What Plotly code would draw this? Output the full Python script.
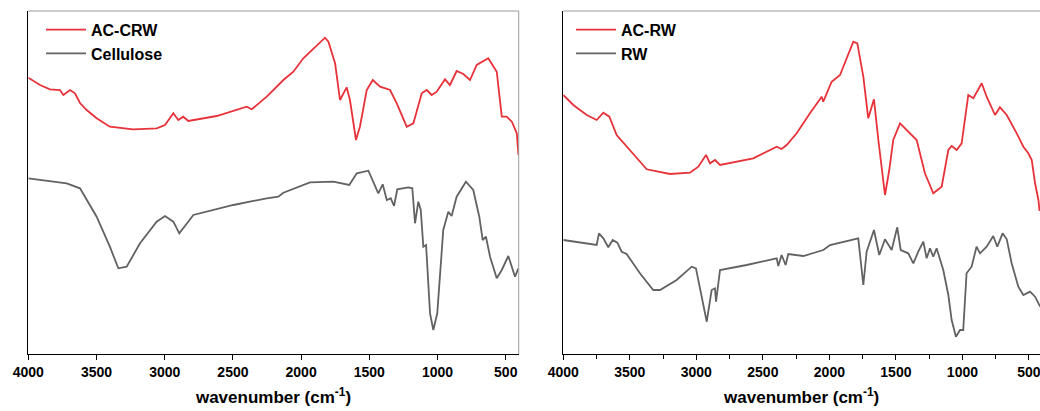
import plotly.graph_objects as go

# ---- Data (y in arbitrary transmittance units) ----
acrcw_wn = [4000, 3914, 3841, 3768, 3743, 3694, 3658, 3621, 3572, 3499, 3402, 3232, 3059, 2998, 2937, 2900,
            2864, 2827, 2619, 2399, 2362, 2326, 2252, 2130, 2057, 1984, 1886, 1825, 1800, 1751, 1715, 1666,
            1642, 1598, 1569, 1519, 1475, 1421, 1348, 1299, 1226, 1177, 1116, 1079, 1043, 1006, 982, 945,
            909, 860, 811, 762, 713, 628, 566, 529, 493, 455, 419, 407]
acrcw_t = [276.3, 269, 264.7, 264, 259, 264, 260.7, 251, 244, 235.7, 227.3, 224.7, 225.7, 229, 240.7, 234,
           237.3, 233, 238, 247.3, 244.7, 249, 257.3, 274, 282.3, 295.7, 309, 316.3, 312.3, 290.7, 254, 266.7,
           254, 214, 227.3, 264, 274, 267.3, 264, 250.7, 227.3, 230.7, 260.7, 264, 259, 262.3, 267.3, 274.7,
           269, 283, 280, 274, 289, 295.7, 282.3, 237.3, 237.3, 232.3, 220.7, 199]

cell_wn = [4000, 3718, 3621, 3499, 3402, 3340, 3279, 3181, 3059, 2998, 2937, 2893, 2790, 2497, 2252, 2167,
           2130, 1996, 1935, 1764, 1647, 1592, 1507, 1434, 1402, 1372, 1343, 1319, 1295, 1214, 1185, 1165,
           1141, 1123, 1104, 1084, 1055, 1031, 1002, 958, 921, 897, 860, 792, 738, 694, 669, 645, 615, 566,
           529, 481, 432, 407]
cell_t = [175.7, 170.7, 165.7, 137.3, 107.3, 85.7, 87.3, 110.7, 132.3, 138, 132.3, 120.7, 139, 149, 155.7, 157.3,
          161.3, 169, 171.7, 172.3, 169, 180.7, 183.3, 160.7, 169.7, 154, 155.7, 148, 164.7, 166.7, 165.7, 130.7,
          152.3, 144, 107.3, 109, 40.7, 24, 40.7, 124, 142.3, 138, 157.3, 172.3, 164, 137.3, 114, 117.3, 97.3, 75.7,
          84, 98, 77.3, 85.7]

acrw_wn = [4000, 3925, 3824, 3749, 3699, 3654, 3599, 3499, 3373, 3198, 3048, 2985, 2927, 2897, 2860, 2822,
           2572, 2396, 2359, 2321, 2246, 2146, 2058, 2046, 1983, 1920, 1858, 1820, 1790, 1745, 1708, 1665,
           1632, 1582, 1550, 1520, 1469, 1407, 1344, 1282, 1219, 1156, 1106, 1081, 1043, 1006, 956, 918,
           855, 818, 755, 718, 667, 592, 542, 505, 479, 454, 429, 420]
acrw_t = [259, 249, 239, 234, 241.3, 237.3, 219, 204, 184.7, 180, 181.3, 187.3, 199, 190.7, 194, 189,
          195.7, 207.3, 205, 209, 220.7, 240.7, 257.3, 252.3, 272.3, 279, 300.7, 312.3, 310.7, 277.3, 235.7, 254.7,
          214, 159, 184, 214, 230.7, 222.3, 214, 180.7, 160.7, 167.3, 204, 208, 204, 210.7, 259, 255.7,
          270.7, 257.3, 239, 246.7, 239, 220.7, 207.3, 200.7, 194, 170.7, 154, 143]

rw_wn = [4000, 3824, 3749, 3732, 3699, 3662, 3629, 3594, 3561, 3524, 3424, 3324, 3273, 3148, 3035, 3003,
         2952, 2922, 2885, 2860, 2852, 2822, 2622, 2396, 2384, 2359, 2329, 2309, 2196, 2046, 1995, 1783,
         1745, 1720, 1665, 1625, 1582, 1532, 1490, 1464, 1407, 1369, 1332, 1294, 1269, 1244, 1219, 1194,
         1144, 1106, 1081, 1049, 1018, 994, 969, 931, 894, 868, 818, 768, 738, 698, 667, 630, 580, 542,
         492, 454, 416]
rw_t = [114, 110, 109, 120.7, 115.7, 106.7, 114, 111.3, 102.3, 100, 80.7, 64, 64, 74, 87.3, 85.7,
        54, 32.3, 64, 65.7, 52.3, 84, 89, 95.7, 88, 99, 89, 100, 98, 104, 109, 115.7,
        69, 102.3, 124, 99, 114.7, 104, 126.7, 104, 100.7, 90.7, 102.3, 112.3, 95.7, 105.7, 97.3, 105.7,
        84, 59, 34, 17.3, 24, 24, 80.7, 87.3, 107.3, 100.7, 107.3, 118, 107.3, 120.7, 114.7, 90.7, 67.3, 59,
        62.3, 57.3, 47.3]

tick_vals = [4000, 3500, 3000, 2500, 2000, 1500, 1000, 500]
tick_text = ["4000", "3500", "3000", "2500", "2000", "1500", "1000", "500"]

RED = "#e8323a"
GRAY = "#626262"
FONT = "Liberation Sans, Arial, sans-serif"

fig = go.Figure()
fig.add_trace(go.Scatter(x=acrcw_wn, y=acrcw_t, mode="lines", name="AC-CRW",
                         line=dict(color=RED, width=1.8), xaxis="x", yaxis="y", legend="legend"))
fig.add_trace(go.Scatter(x=cell_wn, y=cell_t, mode="lines", name="Cellulose",
                         line=dict(color=GRAY, width=1.8), xaxis="x", yaxis="y", legend="legend"))
fig.add_trace(go.Scatter(x=acrw_wn, y=acrw_t, mode="lines", name="AC-RW",
                         line=dict(color=RED, width=1.8), xaxis="x2", yaxis="y2", legend="legend2"))
fig.add_trace(go.Scatter(x=rw_wn, y=rw_t, mode="lines", name="RW",
                         line=dict(color=GRAY, width=1.8), xaxis="x2", yaxis="y2", legend="legend2"))

W, H = 1040, 411
axis_font = dict(family=FONT, size=14, color="black", weight="bold")
title_font = dict(family=FONT, size=17, color="black", weight="bold")
legend_font = dict(family=FONT, size=16, color="black", weight="bold")

common_x = dict(showgrid=False, zeroline=False, showline=True, linecolor="black", linewidth=1.3,
                ticks="outside", ticklen=5, tickwidth=1.3, tickcolor="black", automargin=False,
                ticklabeloverflow="allow",
                tickvals=tick_vals, ticktext=tick_text, tickfont=axis_font,
                title=dict(text="wavenumber (cm<sup>-1</sup>)", font=title_font, standoff=12))
common_y = dict(showgrid=False, zeroline=False, showline=True, linecolor="black", linewidth=1.3,
                showticklabels=False, ticks="", range=[0, 343], automargin=False)

fig.update_layout(
    width=W, height=H,
    margin=dict(l=0, r=0, t=11, b=57, autoexpand=False),
    paper_bgcolor="white", plot_bgcolor="white",
    xaxis=dict(domain=[28.3 / W, 518.7 / W], range=[4000, 405], anchor="y", **common_x),
    yaxis=dict(domain=[0, 1], anchor="x", **common_y),
    xaxis2=dict(domain=[563.3 / W, 1.0], range=[4000, 417], anchor="y2",
                minor=dict(ticks="outside", ticklen=4, tickwidth=1.2, tickcolor="black", dtick=250, tick0=0),
                **common_x),
    yaxis2=dict(domain=[0, 1], anchor="x2", **common_y),
    legend=dict(x=41 / W, xanchor="left", y=0.995, yanchor="top", bgcolor="rgba(0,0,0,0)",
                font=legend_font, tracegroupgap=0, itemwidth=40),
    legend2=dict(x=571 / W, xanchor="left", y=0.995, yanchor="top", bgcolor="rgba(0,0,0,0)",
                 font=legend_font, tracegroupgap=0, itemwidth=40),
    showlegend=True,
)

# gray frame on the top/right of each panel
frame = dict(color="#9a9a9a", width=1)
fig.add_shape(type="line", xref="x domain", yref="y domain", x0=0, x1=1, y0=1, y1=1, line=frame)
fig.add_shape(type="line", xref="x domain", yref="y domain", x0=1, x1=1, y0=0, y1=1, line=frame)
fig.add_shape(type="line", xref="x2 domain", yref="y2 domain", x0=0, x1=1, y0=1, y1=1, line=frame)

fig.write_html("out.html")
